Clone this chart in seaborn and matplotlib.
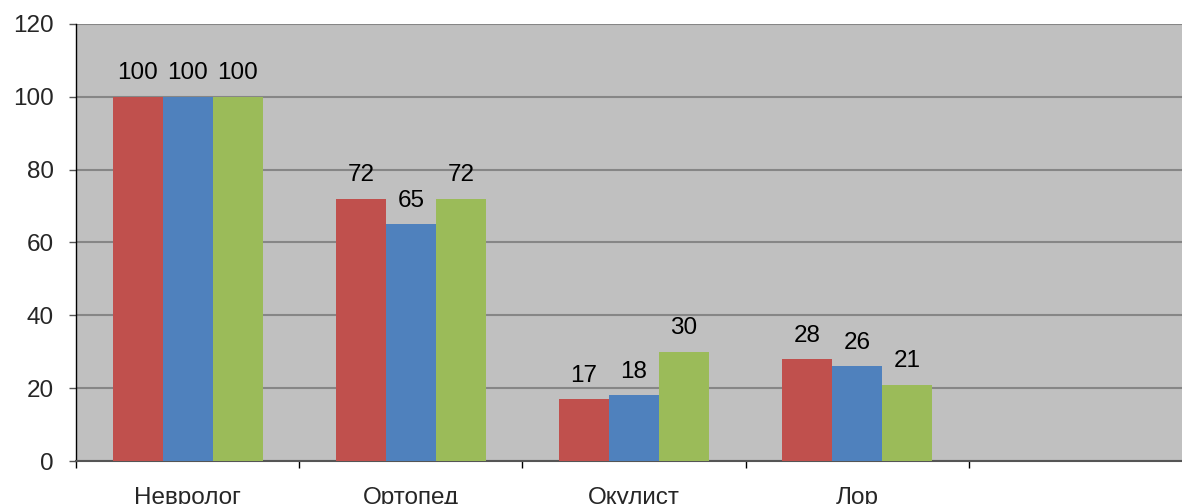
import matplotlib
matplotlib.use("Agg")
import matplotlib.pyplot as plt
import seaborn as sns
import pandas as pd

# data
categories = ["Невролог", "Ортопед", "Окулист", "Лор"]
series_names = ["Ряд 1", "Ряд 2", "Ряд 3"]
series_1 = [100, 72, 17, 28]
series_2 = [100, 65, 18, 26]
series_3 = [100, 72, 30, 21]
colors = ["#C0504D", "#4F81BD", "#9BBB59"]

df = pd.DataFrame({
    "category": categories * 3,
    "series": [s for s in series_names for _ in categories],
    "value": series_1 + series_2 + series_3,
})

sns.set_style("white")
plt.rcParams["font.family"] = ["Liberation Sans", "DejaVu Sans"]
fs = 17.5

fig = plt.figure(figsize=(11.82, 5.04), dpi=100)
ax = fig.add_axes([76 / 1182, 43 / 504, 1 - 76 / 1182, 437 / 504])
ax.set_facecolor("#C0C0C0")

sns.barplot(data=df, x="category", y="value", hue="series", order=categories,
            palette=colors, width=0.672, gap=0, saturation=1, ax=ax,
            legend=False, zorder=3, linewidth=0, edgecolor="none")

for cont in ax.containers:
    ax.bar_label(cont, fmt="%d", padding=9, fontsize=fs, color="black")

# fifth (empty) slot runs past the right edge of the picture
ax.set_xlim(-0.5, 4.455)
ax.set_ylim(0, 120)
ax.set_yticks(range(0, 121, 20))
ax.yaxis.grid(True, color="#868686", linewidth=1.5, zorder=0)
ax.set_axisbelow(True)

ax.set_xticks(range(len(categories)))
ax.set_xticklabels(categories)
ax.set_xticks([i - 0.5 for i in range(5)], minor=True)
ax.tick_params(axis="x", which="major", length=0, pad=19, labelsize=fs)
ax.tick_params(axis="x", which="minor", length=5, width=1, color="black",
               direction="out", bottom=True)
ax.tick_params(axis="y", length=5, width=1, color="#555555", direction="out",
               left=True, pad=11, labelsize=fs)

ax.set_xlabel("")
ax.set_ylabel("")
for side in ["top", "right"]:
    ax.spines[side].set_visible(False)
ax.spines["left"].set_color("black")
ax.spines["left"].set_linewidth(1)
ax.spines["bottom"].set_color("#555555")
ax.spines["bottom"].set_linewidth(1.5)

fig.savefig("out.png", dpi=100)
